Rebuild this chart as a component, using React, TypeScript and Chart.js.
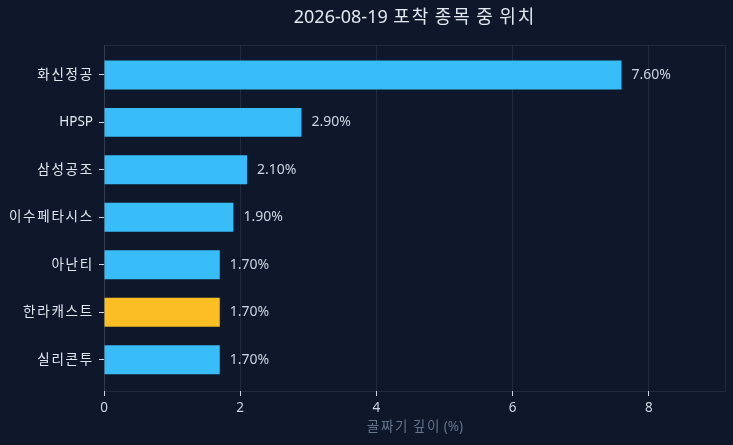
import React, { useEffect, useRef } from "react";
import { Chart, registerables } from "chart.js";

Chart.register(...registerables);

const categories = ["화신정공", "HPSP", "삼성공조", "이수페타시스", "아난티", "한라캐스트", "실리콘투"];
const depths = [7.6, 2.9, 2.1, 1.9, 1.7, 1.7, 1.7];
const highlightIndex = 5;
const xTicks = [0, 2, 4, 6, 8];
const titleText = "2026-08-19 포착 종목 중 위치";
const xTitle = "골짜기 깊이 (%)";

const FAMILY = "'Noto Sans', 'Noto Sans CJK KR', sans-serif";
const BG = "#0f172a";
const BLUE = "#38bdf8";
const AMBER = "#fbbf24";
const GRID = "rgba(148,163,184,0.15)";

const isHangul = (ch: string) => /[\u1100-\u11ff\u3130-\u318f\uac00-\ud7af]/.test(ch);

function drawMixed(
  ctx: CanvasRenderingContext2D,
  text: string,
  x: number,
  y: number,
  align: "left" | "right" | "center",
  latinSize: number,
  hangulSize: number,
  hangulAdv: number
) {
  const latinFont = `${latinSize}px ${FAMILY}`;
  const hangulFont = `${hangulSize}px ${FAMILY}`;
  const chars = Array.from(text);
  const info = chars.map((ch) => {
    const h = isHangul(ch);
    ctx.font = h ? hangulFont : latinFont;
    const w = ctx.measureText(ch).width;
    return { ch, h, w, adv: h ? hangulAdv : w };
  });
  const total = info.reduce((s, c) => s + c.adv, 0);
  let cx = align === "right" ? x - total : align === "center" ? x - total / 2 : x;
  ctx.textAlign = "left";
  ctx.textBaseline = "middle";
  for (const c of info) {
    ctx.font = c.h ? hangulFont : latinFont;
    ctx.fillText(c.ch, cx + (c.adv - c.w) / 2, y);
    cx += c.adv;
  }
}

const valueLabels = {
  id: "valueLabels",
  afterDatasetsDraw(chart: any) {
    const { ctx } = chart;
    const meta = chart.getDatasetMeta(0);
    ctx.save();
    ctx.font = `14px ${FAMILY}`;
    ctx.fillStyle = "#cbd5e1";
    ctx.textBaseline = "middle";
    ctx.textAlign = "left";
    meta.data.forEach((bar: any, i: number) => {
      ctx.fillText(depths[i].toFixed(2) + "%", bar.x + 10, bar.y);
    });
    ctx.restore();
  },
};

const textPlugin = {
  id: "texts",
  beforeDatasetsDraw(chart: any) {
    const { ctx, chartArea } = chart;
    ctx.save();
    ctx.strokeStyle = GRID;
    ctx.lineWidth = 1;
    ctx.strokeRect(
      Math.round(chartArea.left) + 0.5,
      Math.round(chartArea.top) + 0.5,
      Math.round(chartArea.right - chartArea.left),
      Math.round(chartArea.bottom - chartArea.top)
    );
    ctx.restore();
  },
  afterDraw(chart: any) {
    const { ctx, chartArea, scales } = chart;
    const cx = (chartArea.left + chartArea.right) / 2;
    ctx.save();
    ctx.fillStyle = "#e2e8f0";
    drawMixed(ctx, titleText, cx, 18, "center", 18, 18, 18.4);
    const yScale = scales.y;
    categories.forEach((label, i) => {
      const py = yScale.getPixelForValue(i);
      ctx.fillStyle = "#e2e8f0";
      drawMixed(ctx, label, chartArea.left - 11, py, "right", 13.5, 13.5, 14.15);
    });
    ctx.fillStyle = "#64748b";
    drawMixed(ctx, xTitle, cx, 427, "center", 13.5, 13.5, 14.15);
    ctx.restore();
  },
};

const bgPlugin = {
  id: "bg",
  beforeDraw(chart: any) {
    const { ctx, width, height } = chart;
    ctx.save();
    ctx.fillStyle = BG;
    ctx.fillRect(0, 0, width, height);
    ctx.restore();
  },
};

export default function App() {
  const ref = useRef<HTMLCanvasElement | null>(null);
  useEffect(() => {
    if (!ref.current) return;
    const chart = new Chart(ref.current, {
      type: "bar",
      data: {
        datasets: [
          {
            data: depths.map((v, i) => ({ x: v, y: i })),
            backgroundColor: depths.map((_, i) => (i === highlightIndex ? AMBER : BLUE)),
            borderWidth: 0,
            barPercentage: 0.61,
            categoryPercentage: 1,
          },
        ],
      },
      options: {
        indexAxis: "y",
        animation: false,
        responsive: true,
        maintainAspectRatio: false,
        layout: { padding: { left: 0, right: 8, top: 45, bottom: 11 } },
        plugins: {
          legend: { display: false },
          tooltip: { enabled: false },
          title: { display: false },
        },
        scales: {
          x: {
            type: "linear",
            min: 0,
            max: 9.12,
            afterBuildTicks: (scale: any) => {
              scale.ticks = xTicks.map((v) => ({ value: v }));
            },
            afterFit: (scale: any) => {
              scale.height = 43;
            },
            ticks: {
              color: "#cbd5e1",
              font: { family: FAMILY, size: 13.5 },
              padding: 4,
            },
            grid: {
              color: GRID,
              tickColor: "#cbd5e1",
              tickLength: 5,
            },
            border: { display: false },
            title: { display: false },
          },
          y: {
            type: "linear",
            reverse: true,
            offset: false,
            min: -0.63,
            max: 6.66,
            afterBuildTicks: (scale: any) => {
              scale.ticks = categories.map((_, i) => ({ value: i }));
            },
            afterFit: (scale: any) => {
              scale.width = 104;
            },
            ticks: {
              color: "rgba(0,0,0,0)",
              font: { family: FAMILY, size: 13 },
              padding: 6,
              callback: (v: any) => categories[Number(v)] ?? "",
            },
            grid: {
              offset: false,
              drawOnChartArea: false,
              tickColor: "#cbd5e1",
              tickLength: 5,
            },
            border: { display: false },
          },
        },
      },
      plugins: [bgPlugin, textPlugin, valueLabels],
    });
    return () => chart.destroy();
  }, []);
  return (
    <div style={{ position: "absolute", left: 0, top: 0, width: 733, height: 445, background: BG }}>
      <canvas ref={ref} />
    </div>
  );
}
